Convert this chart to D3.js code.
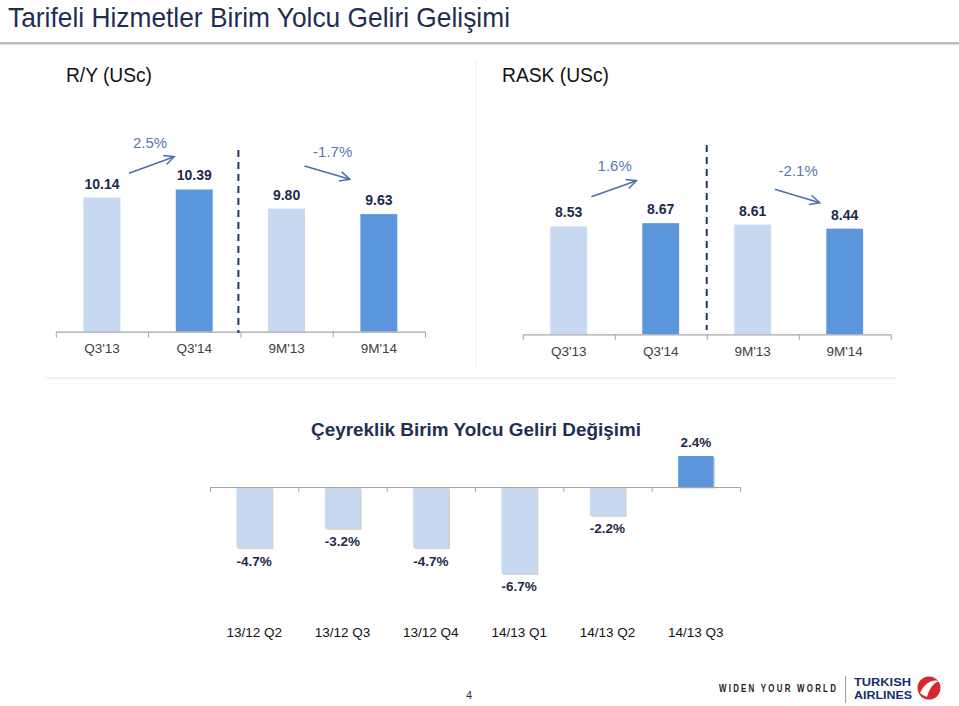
<!DOCTYPE html>
<html>
<head>
<meta charset="utf-8">
<script src="https://cdn.jsdelivr.net/npm/d3@7"></script>
<style>
  html, body { margin: 0; padding: 0; background: #fff; }
  svg { display: block; }
</style>
</head>
<body>
<svg id="chart" width="959" height="706"></svg>
<script>
// ---------- DATA ----------
const topCategories = ["Q3'13", "Q3'14", "9M'13", "9M'14"];
const ryValues = [10.14, 10.39, 9.80, 9.63];
const raskValues = [8.53, 8.67, 8.61, 8.44];
const ryChanges = ["2.5%", "-1.7%"];
const raskChanges = ["1.6%", "-2.1%"];
const quarterCategories = ["13/12 Q2", "13/12 Q3", "13/12 Q4", "14/13 Q1", "14/13 Q2", "14/13 Q3"];
const quarterValues = [-4.7, -3.2, -4.7, -6.7, -2.2, 2.4];

// ---------- STYLE ----------
const LIGHT = "#c6d9f1", DARK = "#5b96dd";
const NAVY = "#1c2b4c", ARROW = "#4d6ea8", AXIS = "#a6a6a6";
const SANS = "'Liberation Sans', Arial, Helvetica, sans-serif";

const svg = d3.select("#chart");

// header
svg.append("text").attr("x", 8).attr("y", 27)
  .attr("font-family", SANS).attr("font-size", 28).attr("fill", "#1f2f52")
  .attr("textLength", 502).attr("lengthAdjust", "spacingAndGlyphs")
  .text("Tarifeli Hizmetler Birim Yolcu Geliri Gelişimi");
svg.append("rect").attr("x", 0).attr("y", 42).attr("width", 959).attr("height", 2.5).attr("fill", "#bdbdbd");

svg.append("text").attr("x", 66).attr("y", 82)
  .attr("font-family", SANS).attr("font-size", 21).attr("fill", "#111")
  .attr("textLength", 86).attr("lengthAdjust", "spacingAndGlyphs")
  .text("R/Y (USc)");
svg.append("text").attr("x", 502).attr("y", 82)
  .attr("font-family", SANS).attr("font-size", 21).attr("fill", "#111")
  .attr("textLength", 107).attr("lengthAdjust", "spacingAndGlyphs")
  .text("RASK (USc)");

// faint separators
svg.append("line").attr("x1", 476).attr("x2", 476).attr("y1", 60).attr("y2", 368)
  .attr("stroke", "#f0f0f0").attr("stroke-width", 1);
svg.append("line").attr("x1", 46).attr("x2", 896).attr("y1", 378).attr("y2", 378)
  .attr("stroke", "#e4e4e4").attr("stroke-width", 2).attr("stroke-dasharray", "1,1");

function arrowPath(g, x1, y1, x2, y2) {
  g.append("line").attr("x1", x1).attr("y1", y1).attr("x2", x2).attr("y2", y2)
    .attr("stroke", ARROW).attr("stroke-width", 1.5);
  const a = Math.atan2(y2 - y1, x2 - x1), L = 11, s = 0.45;
  const p1 = [x2 - L * Math.cos(a - s), y2 - L * Math.sin(a - s)];
  const p2 = [x2 - L * Math.cos(a + s), y2 - L * Math.sin(a + s)];
  g.append("path").attr("d", `M${p1[0]},${p1[1]}L${x2},${y2}L${p2[0]},${p2[1]}`)
    .attr("fill", "none").attr("stroke", ARROW).attr("stroke-width", 1.5);
}

function topChart(cfg) {
  const g = svg.append("g");
  const x = d3.scaleBand().domain(topCategories).range(cfg.xr).padding(0);
  const y = d3.scaleLinear().domain(cfg.yd).range(cfg.yr);
  const bw = x.step() * 0.4;
  const base = cfg.yr[0];
  const cx = c => x(c) + x.step() / 2;

  g.selectAll("rect.bar").data(cfg.values).enter().append("rect")
    .attr("x", (d, i) => cx(topCategories[i]) - bw / 2)
    .attr("y", d => y(d))
    .attr("width", bw)
    .attr("height", d => base - y(d))
    .attr("fill", (d, i) => i % 2 === 0 ? LIGHT : DARK);

  g.selectAll("text.val").data(cfg.values).enter().append("text")
    .attr("x", (d, i) => cx(topCategories[i]))
    .attr("y", d => y(d) - 9)
    .attr("text-anchor", "middle").attr("font-family", SANS)
    .attr("font-weight", "bold").attr("font-size", 14).attr("fill", NAVY)
    .text(d => d.toFixed(2));

  const ax = g.append("g").attr("transform", `translate(0,${base})`)
    .call(d3.axisBottom(x).tickSize(0).tickPadding(12));
  ax.select(".domain").attr("stroke", AXIS).attr("stroke-width", 1.2);
  ax.selectAll("text").attr("font-family", SANS).attr("font-size", 13.5).attr("fill", "#404040");
  const xb = d3.scaleLinear().domain([0, topCategories.length]).range(cfg.xr);
  const tk = g.append("g").attr("transform", `translate(0,${base})`)
    .call(d3.axisBottom(xb).ticks(topCategories.length).tickSize(6).tickFormat(""));
  tk.select(".domain").remove();
  tk.selectAll("line").attr("stroke", AXIS);

  const sx = xb(2) + cfg.sepDx;
  g.append("line").attr("x1", sx).attr("x2", sx).attr("y1", cfg.sepY[0]).attr("y2", cfg.sepY[1])
    .attr("stroke", "#1f3864").attr("stroke-width", 2).attr("stroke-dasharray", "7,5");

  cfg.changes.forEach((txt, k) => {
    const i0 = k * 2, i1 = k * 2 + 1;
    const mid = (cx(topCategories[i0]) + cx(topCategories[i1])) / 2;
    const an = cfg.ann[k];
    g.append("text").attr("x", mid + an.tdx).attr("y", an.ty)
      .attr("text-anchor", "middle").attr("font-family", SANS).attr("font-size", 15)
      .attr("fill", "#5a78b0").text(txt);
    arrowPath(g, cx(topCategories[i0]) + an.x1, an.y1, cx(topCategories[i1]) + an.x2, an.y2);
  });
}

topChart({
  xr: [55.8, 425], yd: [6, 11], yr: [331.7, 169.7], values: ryValues, changes: ryChanges,
  sepDx: -2, sepY: [150, 333],
  ann: [{ tdx: 2, ty: 148, x1: 27, y1: 173.3, x2: -20, y2: 156.7 },
        { tdx: 0, ty: 157, x1: 18, y1: 166, x2: -29, y2: 179.3 }]
});
topChart({
  xr: [522.7, 890.7], yd: [4, 10], yr: [334.3, 191.5], values: raskValues, changes: raskChanges,
  sepDx: 0, sepY: [145, 330],
  ann: [{ tdx: 0, ty: 171, x1: 22.7, y1: 196.7, x2: -24.3, y2: 180.7 },
        { tdx: -0.5, ty: 176, x1: 22, y1: 189.3, x2: -25, y2: 202.7 }]
});

// ---------- bottom chart ----------
(function () {
  const g = svg.append("g");
  const xr = [210, 740];
  const x = d3.scaleBand().domain(quarterCategories).range(xr).padding(0);
  const y = d3.scaleLinear().domain([-8, 4]).range([590.2, 435.4]);
  const bw = x.step() * 0.4;
  const cx = c => x(c) + x.step() / 2;
  const y0 = y(0);

  g.append("text").attr("x", 476).attr("y", 436).attr("text-anchor", "middle")
    .attr("font-family", SANS).attr("font-weight", "bold").attr("font-size", 19)
    .attr("fill", "#1f2f52").attr("textLength", 330).attr("lengthAdjust", "spacingAndGlyphs")
    .text("Çeyreklik Birim Yolcu Geliri Değişimi");

  g.selectAll("rect.sh").data(quarterValues).enter().append("rect")
    .attr("x", (d, i) => cx(quarterCategories[i]) - bw / 2 + 1.5)
    .attr("y", d => Math.min(y(d), y0) + 1.5)
    .attr("width", bw)
    .attr("height", d => Math.abs(y(d) - y0))
    .attr("fill", "#9a9a9a").attr("opacity", 0.45);

  g.selectAll("rect.bar").data(quarterValues).enter().append("rect")
    .attr("x", (d, i) => cx(quarterCategories[i]) - bw / 2)
    .attr("y", d => Math.min(y(d), y0))
    .attr("width", bw)
    .attr("height", d => Math.abs(y(d) - y0))
    .attr("fill", d => d >= 0 ? DARK : LIGHT);

  const ax = g.append("g").attr("transform", `translate(0,${y0})`)
    .call(d3.axisBottom(x).tickSize(0).tickFormat(""));
  ax.select(".domain").attr("stroke", AXIS).attr("stroke-width", 1.2);
  const xb = d3.scaleLinear().domain([0, quarterCategories.length]).range(xr);
  const tk = g.append("g").attr("transform", `translate(0,${y0})`)
    .call(d3.axisBottom(xb).ticks(quarterCategories.length).tickSize(5).tickFormat(""));
  tk.select(".domain").remove();
  tk.selectAll("line").attr("stroke", AXIS);

  g.selectAll("text.val").data(quarterValues).enter().append("text")
    .attr("x", (d, i) => cx(quarterCategories[i]))
    .attr("y", d => d >= 0 ? y(d) - 9 : y(d) + 18)
    .attr("text-anchor", "middle").attr("font-family", SANS)
    .attr("font-weight", "bold").attr("font-size", 13.5).attr("fill", NAVY)
    .text(d => d.toFixed(1) + "%");

  g.selectAll("text.cat").data(quarterCategories).enter().append("text")
    .attr("x", d => cx(d)).attr("y", 637)
    .attr("text-anchor", "middle").attr("font-family", SANS).attr("font-size", 13.5)
    .attr("fill", "#111").text(d => d);
})();

// ---------- footer ----------
svg.append("text").attr("x", 469).attr("y", 699).attr("text-anchor", "middle")
  .attr("font-family", SANS).attr("font-size", 11).attr("fill", "#333").text("4");
svg.append("g").attr("transform", "translate(719,692) scale(0.72,1)")
  .append("text").attr("x", 0).attr("y", 0)
  .attr("font-family", SANS).attr("font-weight", "bold").attr("font-size", 11).attr("fill", "#222")
  .attr("letter-spacing", 3.1).text("WIDEN YOUR WORLD");
svg.append("line").attr("x1", 845.6).attr("x2", 845.6).attr("y1", 676).attr("y2", 703)
  .attr("stroke", "#9a9a9a").attr("stroke-width", 1);
svg.append("text").attr("x", 854).attr("y", 685.5)
  .attr("font-family", SANS).attr("font-weight", "bold").attr("font-size", 11).attr("fill", "#16306b")
  .attr("textLength", 57).attr("lengthAdjust", "spacingAndGlyphs").text("TURKISH");
svg.append("text").attr("x", 854).attr("y", 699)
  .attr("font-family", SANS).attr("font-weight", "bold").attr("font-size", 11).attr("fill", "#16306b")
  .attr("textLength", 58).attr("lengthAdjust", "spacingAndGlyphs").text("AIRLINES");
const logo = svg.append("g").attr("transform", "translate(929,688)");
logo.append("circle").attr("r", 11.5).attr("fill", "#d7282f");
logo.append("path").attr("d", "M-9,5 C-4,-6 4,-9 10,-7 C3,-4 0,2 -2,9 C-4,8 -7,7 -9,5 Z")
  .attr("fill", "#fff");
</script>
</body>
</html>
